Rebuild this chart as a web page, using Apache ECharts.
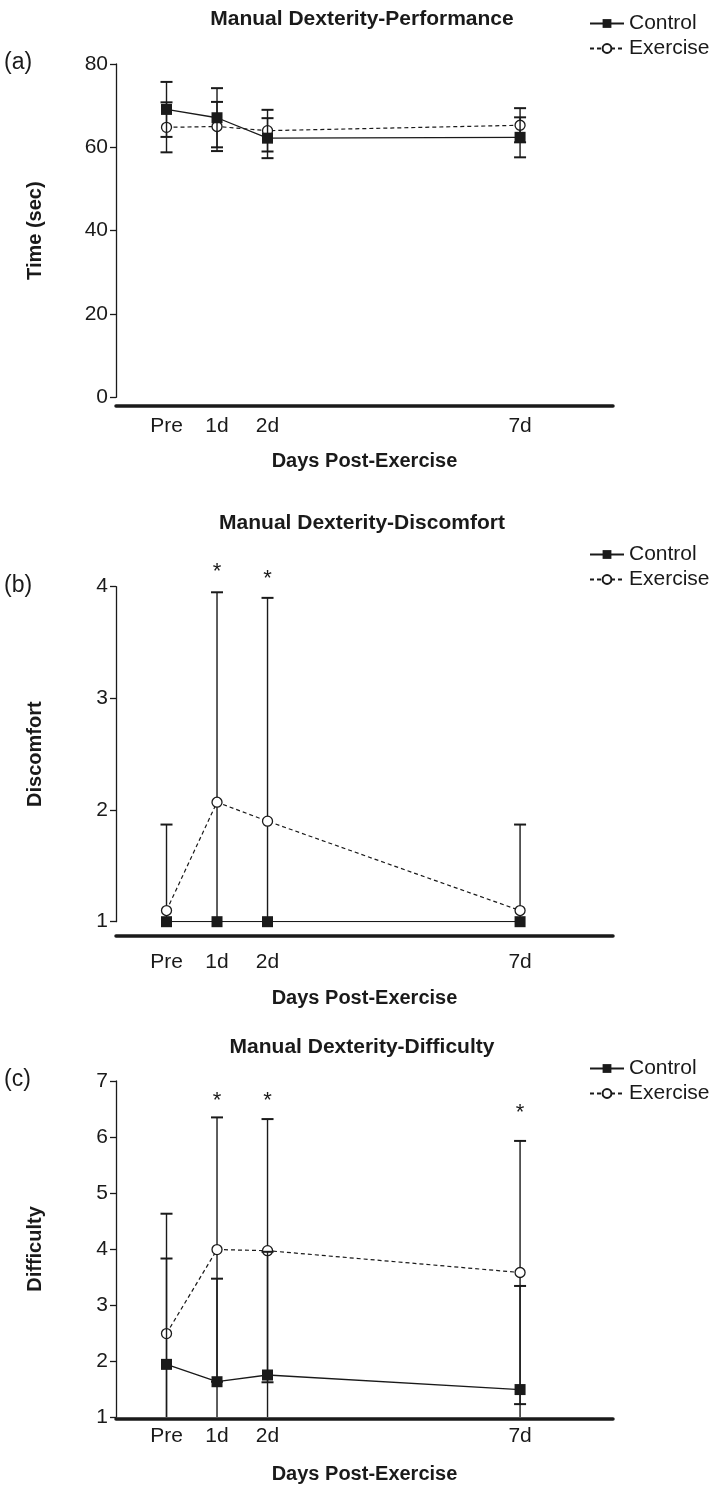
<!DOCTYPE html>
<html><head><meta charset="utf-8">
<script src="https://cdn.jsdelivr.net/npm/echarts@6/dist/echarts.min.js"></script>
<style>html,body{margin:0;padding:0;background:#fff}#c{width:724px;height:1487px}</style>
</head><body><div id="c"></div>
<script>
// ---- data ----
const days = [0, 1, 2, 7];
const dayLabels = ['Pre', '1d', '2d', '7d'];
const seriesNames = ['Control', 'Exercise'];

const perfControl = [69.1, 67.1, 62.2, 62.4];
const perfControlSD = [6.6, 7.1, 4.8, 4.8];
const perfExercise = [64.8, 65.0, 64.0, 65.3];
const perfExerciseSD = [6.0, 5.9, 5.0, 4.1];

const discControl = [1, 1, 1, 1];
const discControlSD = [0, 0, 0, 0];
const discExercise = [1.10, 2.07, 1.90, 1.10];
const discExerciseSD = [0.77, 1.88, 2.00, 0.77];
const discStarDays = [1, 2];
const discStarY = [4.18, 4.11];

const diffControl = [1.94, 1.63, 1.75, 1.49];
const diffControlSD = [1.89, 1.84, 2.20, 1.85];
const diffExercise = [2.49, 3.99, 3.97, 3.58];
const diffExerciseSD = [2.14, 2.36, 2.35, 2.35];
const diffStarDays = [1, 2, 7];
const diffStarY = [6.73, 6.73, 6.52];

const panelTitles = ['Manual Dexterity-Performance', 'Manual Dexterity-Discomfort', 'Manual Dexterity-Difficulty'];
const panelTags = ['(a)', '(b)', '(c)'];
const yNames = ['Time (sec)', 'Discomfort', 'Difficulty'];
const xName = 'Days Post-Exercise';
const yMin = [0, 1, 1];
const yMax = [80, 4, 7];
const yStep = [20, 1, 1];

// ---- layout / style ----
const FONT = '"Liberation Sans", Arial, Helvetica, sans-serif';
const INK = '#1a1a1a';
const L = {
  gridTop: [64, 586.7, 1081], gridH: [333.3, 335, 336],
  left: 116, width: 497,
  xOffset: [8, 14, 2], labelMargin: [10, 16, 7], nameGap: [46, 53, 45],
  titleTop: [4, 508, 1032], legendTop: [8, 539, 1053]
};

const panels = [
  {c: perfControl, cs: perfControlSD, e: perfExercise, es: perfExerciseSD, sd: [], sy: []},
  {c: discControl, cs: discControlSD, e: discExercise, es: discExerciseSD, sd: discStarDays, sy: discStarY},
  {c: diffControl, cs: diffControlSD, e: diffExercise, es: diffExerciseSD, sd: diffStarDays, sy: diffStarY}
];

function errBars(i, means, sds, lowLimit, z) {
  return {
    type: 'custom', xAxisIndex: i, yAxisIndex: i, z: z, silent: true, clip: false,
    encode: {x: 0, y: [1, 2]},
    data: days.map((d, k) => [d, Math.max(means[k] - sds[k], lowLimit), means[k] + sds[k],
      (means[k] - sds[k]) >= lowLimit ? 1 : 0, sds[k]]),
    renderItem: function (params, api) {
      if (api.value(4) <= 0) return null;
      const x = api.value(0);
      const lo = api.coord([x, api.value(1)]);
      const hi = api.coord([x, api.value(2)]);
      const cw = 6;
      const ch = [
        {type: 'line', shape: {x1: lo[0], y1: lo[1], x2: hi[0], y2: hi[1]}, style: {stroke: INK, lineWidth: 1.4}},
        {type: 'line', shape: {x1: hi[0] - cw, y1: hi[1], x2: hi[0] + cw, y2: hi[1]}, style: {stroke: INK, lineWidth: 2}}
      ];
      if (api.value(3)) ch.push({type: 'line', shape: {x1: lo[0] - cw, y1: lo[1], x2: lo[0] + cw, y2: lo[1]}, style: {stroke: INK, lineWidth: 2}});
      return {type: 'group', children: ch};
    }
  };
}

function stars(i, sd, sy) {
  return {
    type: 'custom', xAxisIndex: i, yAxisIndex: i, z: 6, silent: true, clip: false,
    encode: {x: 0, y: 1},
    data: sd.map((d, k) => [d, sy[k]]),
    renderItem: function (params, api) {
      const p = api.coord([api.value(0), api.value(1)]);
      return {type: 'text', style: {text: '*', x: p[0], y: p[1] + 5, align: 'center', verticalAlign: 'middle',
        fontSize: 22, fontFamily: FONT, fill: INK}};
    }
  };
}

const option = {
  animation: false,
  backgroundColor: '#fff',
  textStyle: {fontFamily: FONT},
  title: panelTitles.map((t, i) => ({
    text: t, left: 'center', top: L.titleTop[i],
    textStyle: {fontSize: 21, fontWeight: 'bold', color: INK, fontFamily: FONT}
  })),
  legend: [0, 1, 2].map(i => ({
    data: seriesNames, orient: 'vertical', left: 584, top: L.legendTop[i],
    itemWidth: 34, itemHeight: 11, itemGap: 4, itemTextGap: 5,
    selectedMode: false,
    textStyle: {fontSize: 21, color: INK, fontFamily: FONT}
  })),
  grid: [0, 1, 2].map(i => ({left: L.left, width: L.width, top: L.gridTop[i], height: L.gridH[i]})),
  xAxis: [0, 1, 2].map(i => ({
    type: 'value', gridIndex: i, min: -1, max: 8.84, interval: 1, offset: L.xOffset[i],
    axisLine: {show: true, onZero: false, lineStyle: {color: INK, width: 3.5}},
    axisTick: {show: false}, splitLine: {show: false},
    axisLabel: {margin: L.labelMargin[i], fontSize: 21, color: INK, fontFamily: FONT, showMaxLabel: false,
      formatter: v => { const k = days.indexOf(Math.round(v)); return (k >= 0 && Math.abs(v - Math.round(v)) < 1e-6) ? dayLabels[k] : ''; }},
    name: xName, nameLocation: 'middle', nameGap: L.nameGap[i],
    nameTextStyle: {fontSize: 20, fontWeight: 'bold', color: INK, fontFamily: FONT}
  })),
  yAxis: [0, 1, 2].map(i => ({
    type: 'value', gridIndex: i, min: yMin[i], max: yMax[i], interval: yStep[i],
    axisLine: {show: true, onZero: false, lineStyle: {color: INK, width: 1.3}},
    axisTick: {show: true, length: 6, lineStyle: {color: INK, width: 1.3}},
    splitLine: {show: false},
    axisLabel: {margin: 8, fontSize: 21, color: INK, fontFamily: FONT},
    name: yNames[i], nameLocation: 'middle', nameGap: 71,
    nameTextStyle: {fontSize: 20, fontWeight: 'bold', color: INK, fontFamily: FONT}
  })),
  graphic: panelTags.map((t, i) => ({
    type: 'text', left: 4, top: L.gridTop[i] - 13,
    style: {text: t, fontSize: 23, fontFamily: FONT, fill: INK}
  })),
  series: []
};

panels.forEach((p, i) => {
  const low = yMin[i];
  option.series.push(errBars(i, p.e, p.es, low, 1));
  option.series.push({
    type: 'line', name: 'Exercise', xAxisIndex: i, yAxisIndex: i, z: 2,
    data: days.map((d, k) => [d, p.e[k]]),
    symbol: 'circle', symbolSize: 10,
    itemStyle: {color: '#fff', borderColor: INK, borderWidth: 1.3},
    lineStyle: {color: INK, width: 1.2, type: [4, 3]}
  });
  option.series.push(errBars(i, p.c, p.cs, low, 3));
  option.series.push({
    type: 'line', name: 'Control', xAxisIndex: i, yAxisIndex: i, z: 4,
    data: days.map((d, k) => [d, p.c[k]]),
    symbol: 'rect', symbolSize: 11,
    itemStyle: {color: INK},
    lineStyle: {color: INK, width: 1.3}
  });
  if (p.sd.length) option.series.push(stars(i, p.sd, p.sy));
});

const chart = echarts.init(document.getElementById('c'), null, {renderer: 'canvas'});
chart.setOption(option);
</script>
</body></html>
